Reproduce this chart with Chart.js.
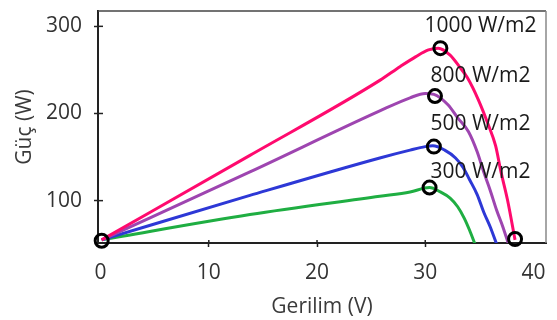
<!DOCTYPE html>
<html>
<head>
<meta charset="utf-8">
<script src="https://cdn.jsdelivr.net/npm/chart.js@4.4.1/dist/chart.umd.min.js"></script>
<style>
  html, body { margin: 0; padding: 0; background: #fff; }
</style>
</head>
<body>
<canvas id="pvChart" width="557" height="320"></canvas>
<script>
// P-V curves, one pair of arrays per irradiance
const volt1000 = [0.1, 13.8, 25.8, 27.7, 29.1, 30.3, 31.2, 32.3, 33.2, 33.9, 34.9, 35.8, 36.5, 37.0, 37.6, 38.3];
const power1000 = [55, 152, 238, 254, 265, 273, 275, 267, 253, 241, 216, 188, 163, 133, 101, 55];

const volt800 = [0.1, 13.8, 25.8, 28.6, 30.0, 30.8, 32.1, 33.0, 34.0, 34.8, 35.4, 36.0, 36.6, 37.2, 37.7];
const power800 = [55, 133, 203, 218, 223, 222, 210, 195, 179, 156, 133, 112, 89, 69, 50];

const volt500 = [0.1, 13.8, 25.8, 28.6, 30.0, 30.7, 31.8, 32.8, 33.5, 34.1, 34.8, 35.4, 36.0, 36.6];
const power500 = [55, 106, 149, 158, 162, 163, 158, 149, 138, 124, 107, 87, 70, 50];

const volt300 = [0.1, 13.8, 25.8, 28.6, 30.4, 31.4, 32.3, 33.0, 33.6, 34.1, 34.6];
const power300 = [55, 84, 105, 110, 115, 110, 103, 93, 80, 66, 50];

// black circles (origin, maximum power points, open circuit)
const markVolt = [0.1, 31.4, 30.9, 30.8, 30.4, 38.3];
const markPower = [54, 275, 220, 162, 115, 56];

// irradiance captions
const captionText = ['1000 W/m2', '800 W/m2', '500 W/m2', '300 W/m2'];
const captionVolt = [35.1, 35.1, 35.1, 35.1];
const captionPower = [300, 243, 188, 133];

const xTicks = [0, 10, 20, 30, 40];
const yTicks = [100, 200, 300];

const FONT = "'Open Sans', 'Liberation Sans', sans-serif";

const toPoints = (xs, ys) => xs.map((x, i) => ({ x, y: ys[i] }));

const curve = (label, xs, ys, color) => ({
  label,
  data: toPoints(xs, ys),
  borderColor: color,
  backgroundColor: color,
  borderWidth: 3,
  pointRadius: 0,
  cubicInterpolationMode: 'monotone',
  fill: false,
  order: 2,
});

/* -----------------------------
   Frame, inner ticks, captions
------------------------------ */

const framePlugin = {
  id: 'frame',
  beforeDatasetsDraw(chart) {
    const { ctx, chartArea: a, scales } = chart;
    ctx.save();
    ctx.lineWidth = 1.5;
    ctx.strokeStyle = '#444';
    ctx.beginPath();
    ctx.moveTo(a.left, a.top);
    ctx.lineTo(a.right, a.top);
    ctx.stroke();
    ctx.strokeStyle = '#888';
    ctx.beginPath();
    ctx.moveTo(a.right, a.top);
    ctx.lineTo(a.right, a.bottom);
    ctx.stroke();

    ctx.strokeStyle = '#222';
    scales.x.ticks.forEach((t) => {
      if (t.value <= 0 || t.value >= 40) return;
      const px = scales.x.getPixelForValue(t.value);
      ctx.beginPath();
      ctx.moveTo(px, a.bottom);
      ctx.lineTo(px, a.bottom - 3);
      ctx.stroke();
    });
    scales.y.ticks.forEach((t) => {
      const py = scales.y.getPixelForValue(t.value);
      ctx.beginPath();
      ctx.moveTo(a.left, py);
      ctx.lineTo(a.left + 5, py);
      ctx.stroke();
    });
    ctx.restore();
  },
  afterDatasetsDraw(chart) {
    const { ctx, scales } = chart;
    ctx.save();
    ctx.font = `21px ${FONT}`;
    ctx.fillStyle = '#1a1a1a';
    ctx.textAlign = 'center';
    ctx.textBaseline = 'middle';
    captionText.forEach((txt, i) => {
      ctx.fillText(txt, scales.x.getPixelForValue(captionVolt[i]), scales.y.getPixelForValue(captionPower[i]));
    });
    ctx.restore();
  },
};

new Chart(document.getElementById('pvChart'), {
  type: 'line',
  data: {
    datasets: [
      {
        label: 'MPP',
        data: toPoints(markVolt, markPower),
        showLine: false,
        pointRadius: 6.5,
        pointBorderWidth: 3,
        pointBorderColor: '#000',
        pointBackgroundColor: 'rgba(0,0,0,0)',
        clip: false,
        order: 0,
      },
      curve('1000 W/m2', volt1000, power1000, '#ff0a6e'),
      curve('800 W/m2', volt800, power800, '#9e45b0'),
      curve('500 W/m2', volt500, power500, '#2d38d6'),
      curve('300 W/m2', volt300, power300, '#1fae42'),
    ],
  },
  options: {
    responsive: false,
    animation: false,
    layout: { padding: { top: 11, right: 11, left: 0, bottom: 0 } },
    plugins: { legend: { display: false }, tooltip: { enabled: false } },
    scales: {
      x: {
        type: 'linear',
        min: -0.24,
        max: 41.16,
        afterBuildTicks: (scale) => { scale.ticks = xTicks.map((value) => ({ value })); },
        afterFit: (scale) => {
          scale.height = 77;
          scale.paddingLeft = 0;
          scale.paddingRight = 0;
        },
        border: { color: '#222', width: 2 },
        grid: {
          drawOnChartArea: false,
          tickLength: 4,
          tickWidth: 1.5,
          tickColor: (ctx) => (ctx.tick && ctx.tick.value > 0 && ctx.tick.value < 40 ? '#222' : 'rgba(0,0,0,0)'),
        },
        ticks: { color: '#333', padding: 13, maxRotation: 0, font: { family: FONT, size: 21 } },
        title: {
          display: true,
          text: 'Gerilim (V)',
          color: '#3a3a3a',
          padding: { top: 0, bottom: 0 },
          font: { family: FONT, size: 21 },
        },
      },
      y: {
        type: 'linear',
        min: 51.4,
        max: 317.6,
        afterBuildTicks: (scale) => { scale.ticks = yTicks.map((value) => ({ value })); },
        afterFit: (scale) => {
          scale.width = 98;
          scale.paddingTop = 0;
          scale.paddingBottom = 0;
        },
        border: { color: '#222', width: 2 },
        grid: { drawOnChartArea: false, tickLength: 4, tickWidth: 1.5, tickColor: '#222' },
        ticks: { color: '#333', padding: 12, font: { family: FONT, size: 21 } },
        title: {
          display: true,
          text: 'Güç (W)',
          color: '#3a3a3a',
          padding: { top: 12, bottom: 0 },
          font: { family: FONT, size: 21 },
        },
      },
    },
  },
  plugins: [framePlugin],
});
</script>
</body>
</html>
